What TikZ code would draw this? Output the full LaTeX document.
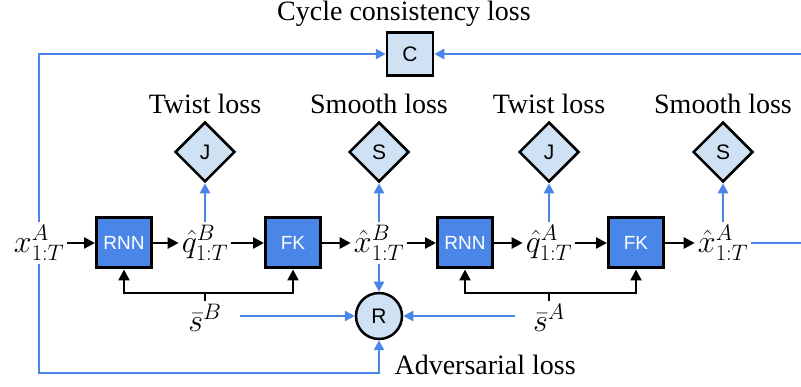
\documentclass[tikz,border=0pt]{standalone}
\usepackage{fix-cm}
\usepackage[no-math]{fontspec}
\setmainfont{Liberation Serif}
\setsansfont{Liberation Sans}
\usetikzlibrary{arrows.meta, shapes.geometric}
\definecolor{lossblue}{RGB}{74,134,232}
\definecolor{lossfill}{RGB}{207,226,243}

\begin{document}
\begin{tikzpicture}[x=1pt,y=-1pt,line width=2.5pt,>={Triangle[length=11pt,width=11pt]}]
  \tikzstyle{net}=[draw=black,line width=3pt,fill=lossblue,text=white,minimum width=55pt,minimum height=50pt,inner sep=0pt,font=\sffamily\fontsize{19}{22}\selectfont]
  \tikzstyle{loss}=[draw=black,line width=2.5pt,fill=lossfill,inner sep=0pt,font=\sffamily\fontsize{21}{24}\selectfont]
  \tikzstyle{lbl}=[font=\fontsize{28}{34}\selectfont]
  \tikzstyle{var}=[inner sep=2pt,font=\fontsize{32}{38}\selectfont]
  \tikzstyle{fb}=[->,draw=lossblue,>={Triangle[length=10pt,width=10pt]}]

  \useasboundingbox (0,0) rectangle (801,387);

  % losses
  \node[loss,minimum width=46pt,minimum height=43pt] (C)   at (410,54)  {C};
  \node[loss,diamond,minimum size=60pt]              (J_B) at (205,152) {J};
  \node[loss,diamond,minimum size=60pt]              (S_B) at (379,152) {S};
  \node[loss,diamond,minimum size=60pt]              (J_A) at (549,152) {J};
  \node[loss,diamond,minimum size=60pt]              (S_A) at (723,152) {S};
  \node[loss,circle,minimum size=46pt]               (R)   at (379,316) {R};

  \node[lbl,anchor=base]      (t_C) at (404,21)  {Cycle consistency loss};
  \node[lbl,anchor=base]      (t_1) at (205,114) {Twist loss};
  \node[lbl,anchor=base]      (t_2) at (379,114) {Smooth loss};
  \node[lbl,anchor=base]      (t_3) at (549,114) {Twist loss};
  \node[lbl,anchor=base]      (t_4) at (723,114) {Smooth loss};
  \node[lbl,anchor=base west] (t_R) at (390,375) {Adversarial loss};

  % main row
  \node[var] (x_A)   at (39,243)  {$x^A_{1:T}$};
  \node[net] (rnn_B) at (124,243) {RNN};
  \node[var] (q_B)   at (205,243) {$\hat{q}^B_{1:T}$};
  \node[net] (fk_B)  at (293,243) {FK};
  \node[var] (xh_B)  at (379,243) {$\hat{x}^B_{1:T}$};
  \node[net] (rnn_A) at (465,243) {RNN};
  \node[var] (q_A)   at (549,243) {$\hat{q}^A_{1:T}$};
  \node[net] (fk_A)  at (636,243) {FK};
  \node[var] (xh_A)  at (723,243) {$\hat{x}^A_{1:T}$};

  \node[var] (s_B) at (205,318) {$\bar{s}^B$};
  \node[var] (s_A) at (549,318) {$\bar{s}^A$};

  \coordinate (j_B)   at (205,293);
  \coordinate (j_A)   at (549,293);
  \coordinate (low_L) at (39,373);
  \coordinate (out_R) at (815,243);

  \draw[->] (x_A) -- (rnn_B);
  \draw[->] (rnn_B) -- (q_B);
  \draw[->] (q_B) -- (fk_B);
  \draw[->] (fk_B) -- (xh_B);
  \draw[->] (xh_B) -- (rnn_A);
  \draw[->] (rnn_A) -- (q_A);
  \draw[->] (q_A) -- (fk_A);
  \draw[->] (fk_A) -- (xh_A);

  \draw (s_B) -- (j_B);
  \draw[->] (j_B) -| (rnn_B);
  \draw[->] (j_B) -| (fk_B);
  \draw (s_A) -- (j_A);
  \draw[->] (j_A) -| (rnn_A);
  \draw[->] (j_A) -| (fk_A);

  % losses feedback
  \draw[fb] (q_B) -- (J_B);
  \draw[fb] (xh_B) -- (S_B);
  \draw[fb] (q_A) -- (J_A);
  \draw[fb] (xh_A) -- (S_A);
  \draw[fb] (xh_B) -- (R);
  \draw[fb,shorten <=15pt] (s_B.east |- R) -- (R);
  \draw[fb,shorten <=15pt] (s_A.west |- R) -- (R);
  \draw[fb] (x_A) |- (C);
  \draw[fb] (xh_A) -- (out_R) |- (C);
  \draw[fb] (x_A) -- (low_L) -| (R);
\end{tikzpicture}
\end{document}
